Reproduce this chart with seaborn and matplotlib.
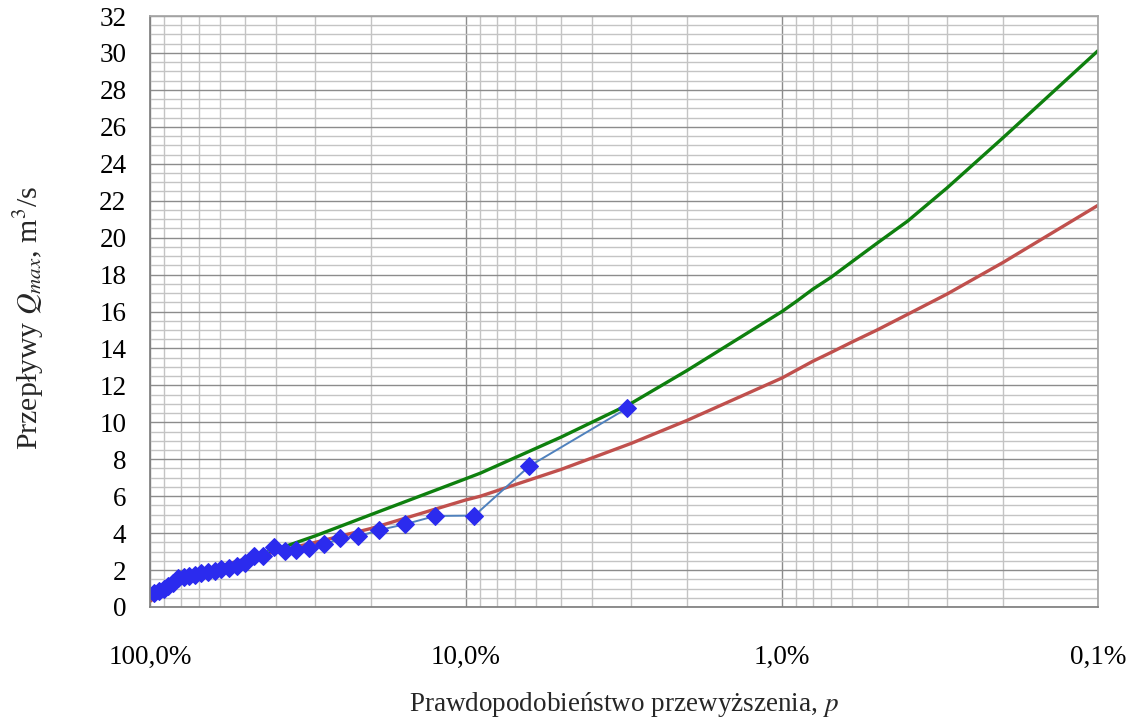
import numpy as np
import pandas as pd
import seaborn as sns
import matplotlib.pyplot as plt
from matplotlib.ticker import FixedLocator, LogLocator, MultipleLocator, NullFormatter

# empirical points (probability of exceedance in %, flow in m3/s)
p_obs = [96.9, 93.8, 90.6, 87.5, 84.4, 81.3, 78.1, 75.0, 71.9, 68.8, 65.6,
         62.5, 59.4, 56.3, 53.1, 50.0, 46.9, 43.8, 40.6, 37.5, 34.4, 31.3,
         28.1, 25.0, 21.9, 18.8, 15.6, 12.5, 9.4, 6.3, 3.1]
q_obs = [0.74, 0.87, 0.99, 1.14, 1.32, 1.58, 1.62, 1.68, 1.74, 1.82, 1.90,
         1.97, 2.04, 2.12, 2.20, 2.38, 2.78, 2.74, 3.25, 3.05, 3.09, 3.18,
         3.39, 3.72, 3.82, 4.17, 4.48, 4.93, 4.95, 7.63, 10.75]

# fitted distribution (red)
p_red = [100, 90, 80, 70, 60, 50, 40, 30, 20, 10, 9, 5, 3, 2, 1,
         0.8, 0.7, 0.6, 0.5, 0.4, 0.3, 0.2, 0.1]
q_red = [0.3, 1.0, 1.45, 1.8, 2.2, 2.6, 3.0, 3.5, 4.25, 5.8, 6.0, 7.45, 8.86,
         10.1, 12.4, 13.3, 13.78, 14.35, 15.0, 15.85, 16.95, 18.65, 21.75]

# upper bound (green)
p_green = [50, 40, 30, 20, 10, 9, 5, 3, 2, 1, 0.9, 0.8, 0.7, 0.6, 0.5,
           0.4, 0.3, 0.2, 0.1]
q_green = [2.65, 3.1, 3.85, 5.0, 6.95, 7.25, 9.2, 11.03, 12.8, 16.0, 16.55,
           17.2, 17.85, 18.7, 19.7, 20.9, 22.7, 25.4, 30.12]

x_ticks = [100, 10, 1, 0.1]
x_labels = ['100,0%', '10,0%', '1,0%', '0,1%']

sns.set_theme(style='white')
plt.rcParams['font.family'] = ['Liberation Serif', 'DejaVu Serif']
plt.rcParams['mathtext.fontset'] = 'stix'

fig = plt.figure(figsize=(11.33, 7.2), dpi=100)
ax = fig.add_axes([150/1133, 113/720, 948/1133, 591/720])
ax.set_xscale('log')

df_red = pd.DataFrame({'p': p_red, 'q': q_red})
df_green = pd.DataFrame({'p': p_green, 'q': q_green})
df_obs = pd.DataFrame({'p': p_obs, 'q': q_obs})

sns.lineplot(data=df_red, x='p', y='q', color='#C0504D', linewidth=2.4,
             estimator=None, sort=False, ax=ax)
sns.lineplot(data=df_green, x='p', y='q', color='#0E800E', linewidth=2.4,
             estimator=None, sort=False, ax=ax)
sns.lineplot(data=df_obs, x='p', y='q', color='#4F81BD', linewidth=1.4,
             marker='D', markersize=9.5, markerfacecolor='#2B2BEE',
             markeredgecolor='#2B2BEE', estimator=None, sort=False, ax=ax)

ax.set_xlim(100, 0.1)
ax.set_ylim(0, 32)

ax.xaxis.set_major_locator(FixedLocator(x_ticks))
ax.set_xticklabels(x_labels)
ax.xaxis.set_minor_locator(LogLocator(base=10, subs=np.arange(2, 10)))
ax.xaxis.set_minor_formatter(NullFormatter())
ax.yaxis.set_major_locator(MultipleLocator(2))
ax.yaxis.set_minor_locator(MultipleLocator(0.5))

ax.grid(True, which='major', color='#8c8c8c', linewidth=1.0)
ax.grid(True, which='minor', color='#c4c4c4', linewidth=1.0)
ax.set_axisbelow(True)

ax.tick_params(axis='both', which='major', labelsize=19.5, colors='black',
               direction='out', length=4, width=1, pad=13)
ax.tick_params(axis='x', which='major', pad=23, color='#808080')
ax.tick_params(axis='y', which='major', color='#808080')
ax.tick_params(axis='both', which='minor', length=0)

for s in ['left', 'bottom']:
    ax.spines[s].set_color('#808080')
for s in ['top', 'right']:
    ax.spines[s].set_color('#a6a6a6')

ax.set_xlabel('Prawdopodobieństwo przewyższenia, $p$', fontsize=19.5, labelpad=15)
ax.set_ylabel('Przepływy $Q_{max}$, m$^3$/s', fontsize=21.5)
ax.yaxis.set_label_coords(-0.11, 0.49)

fig.savefig('out.png', dpi=100)
